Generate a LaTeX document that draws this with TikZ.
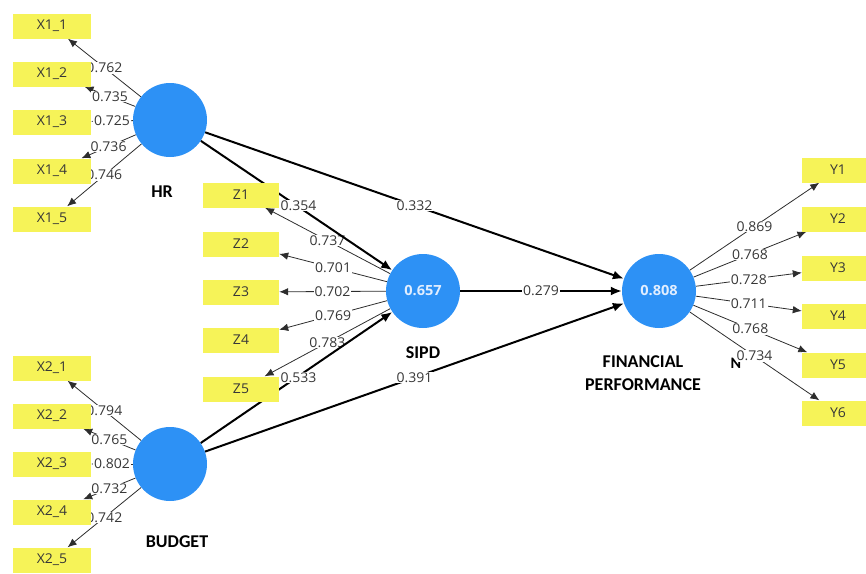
\documentclass[tikz,border=0pt]{standalone}
\usepackage{fontspec}
\setmainfont{Open Sans}
\newfontfamily\numfont[FakeStretch=1.04]{Open Sans}
\newfontfamily\cfont{Carlito}
\usetikzlibrary{arrows.meta}
\pgfdeclarelayer{bg}
\pgfsetlayers{bg,main}
\definecolor{plsblue}{RGB}{45,145,245}
\definecolor{plsyellow}{RGB}{246,243,88}
\definecolor{indline}{RGB}{45,45,45}
\definecolor{numtext}{RGB}{55,55,55}
\definecolor{innertext}{RGB}{225,238,255}
\begin{document}
\begin{tikzpicture}[x=1pt,y=-1pt,
 ind/.style={fill=plsyellow, minimum width=78pt, minimum height=25pt, inner sep=0pt, text=numtext, font=\numfont\fontsize{13.5}{13.5}\selectfont},
 zind/.style={ind, minimum width=76pt},
 yind/.style={ind, minimum width=72pt},
 lv/.style={circle, fill=plsblue, minimum size=74pt, inner sep=0pt, text=innertext, font=\numfont\bfseries\fontsize{14}{14}\selectfont},
 lvname/.style={font=\cfont\bfseries\fontsize{18}{23}\selectfont, align=center},
 lbl/.style={fill=white, inner sep=0.8pt, text=numtext, font=\numfont\fontsize{13.5}{13.5}\selectfont},
 load/.style={draw=indline, line width=0.8pt, -{Latex[length=9pt,width=7.5pt]}},
 spath/.style={draw=black, line width=2pt, -{Latex[length=11pt,width=9pt]}},
]
\useasboundingbox (0,0) rectangle (866,573);
\clip (0,0) rectangle (866,573);
% latent variables
\node[lv] (hr) at (170,120) {};
\node[lv] (bud) at (170,464) {};
\node[lv] (sipd) at (423,291) {0.657};
\node[lv] (fp) at (659,291) {0.808};
% indicators
\foreach \i/\y in {1/26,2/74,3/122,4/171,5/219} \node[ind] (xa\i) at (52,\y) {X1\_\i};
\foreach \i/\y in {1/368,2/416,3/464,4/512,5/560} \node[ind] (xb\i) at (52,\y) {X2\_\i};
\foreach \i/\y in {1/195,2/244,3/292,4/340,5/389} \node[zind] (z\i) at (241,\y) {Z\i};
\foreach \i/\y in {1/170,2/219,3/268,4/316,5/365,6/413} \node[yind] (y\i) at (838,\y) {Y\i};
% construct names
\node[lvname] (hrlbl) at (162,192) {HR};
\node[lvname] (budlbl) at (177,542) {BUDGET};
\node[lvname] (sipdlbl) at (423,353) {SIPD};
\node[lvname] (fplbl) at (643,373.5) {FINANCIAL\\PERFORMANCE};
\begin{pgfonlayer}{bg}
\node[font=\cfont\bfseries\fontsize{16}{16}\selectfont] (nfrag) at (736,363) {N};
\foreach \i/\v in {1/0.762,2/0.735,3/0.725,4/0.736,5/0.746}
  \draw[load] (hr) -- node[lbl]{\v} (xa\i);
\foreach \i/\v in {1/0.794,2/0.765,3/0.802,4/0.732,5/0.742}
  \draw[load] (bud) -- node[lbl]{\v} (xb\i);
\foreach \i/\v in {1/0.737,2/0.701,3/0.702,4/0.769,5/0.783}
  \draw[load] (sipd) -- node[lbl]{\v} (z\i);
\foreach \i/\v in {1/0.869,2/0.768,3/0.728,4/0.711,5/0.768,6/0.734}
  \draw[load] (fp) -- node[lbl]{\v} (y\i);
\draw[spath] (hr) -- node[lbl, xshift=2pt]{0.354} (sipd);
\draw[spath] (bud) -- node[lbl, xshift=2pt]{0.533} (sipd);
\draw[spath] (hr) -- node[lbl]{0.332} (fp);
\draw[spath] (sipd) -- node[lbl]{0.279} (fp);
\draw[spath] (bud) -- node[lbl]{0.391} (fp);
\end{pgfonlayer}
\end{tikzpicture}
\end{document}
